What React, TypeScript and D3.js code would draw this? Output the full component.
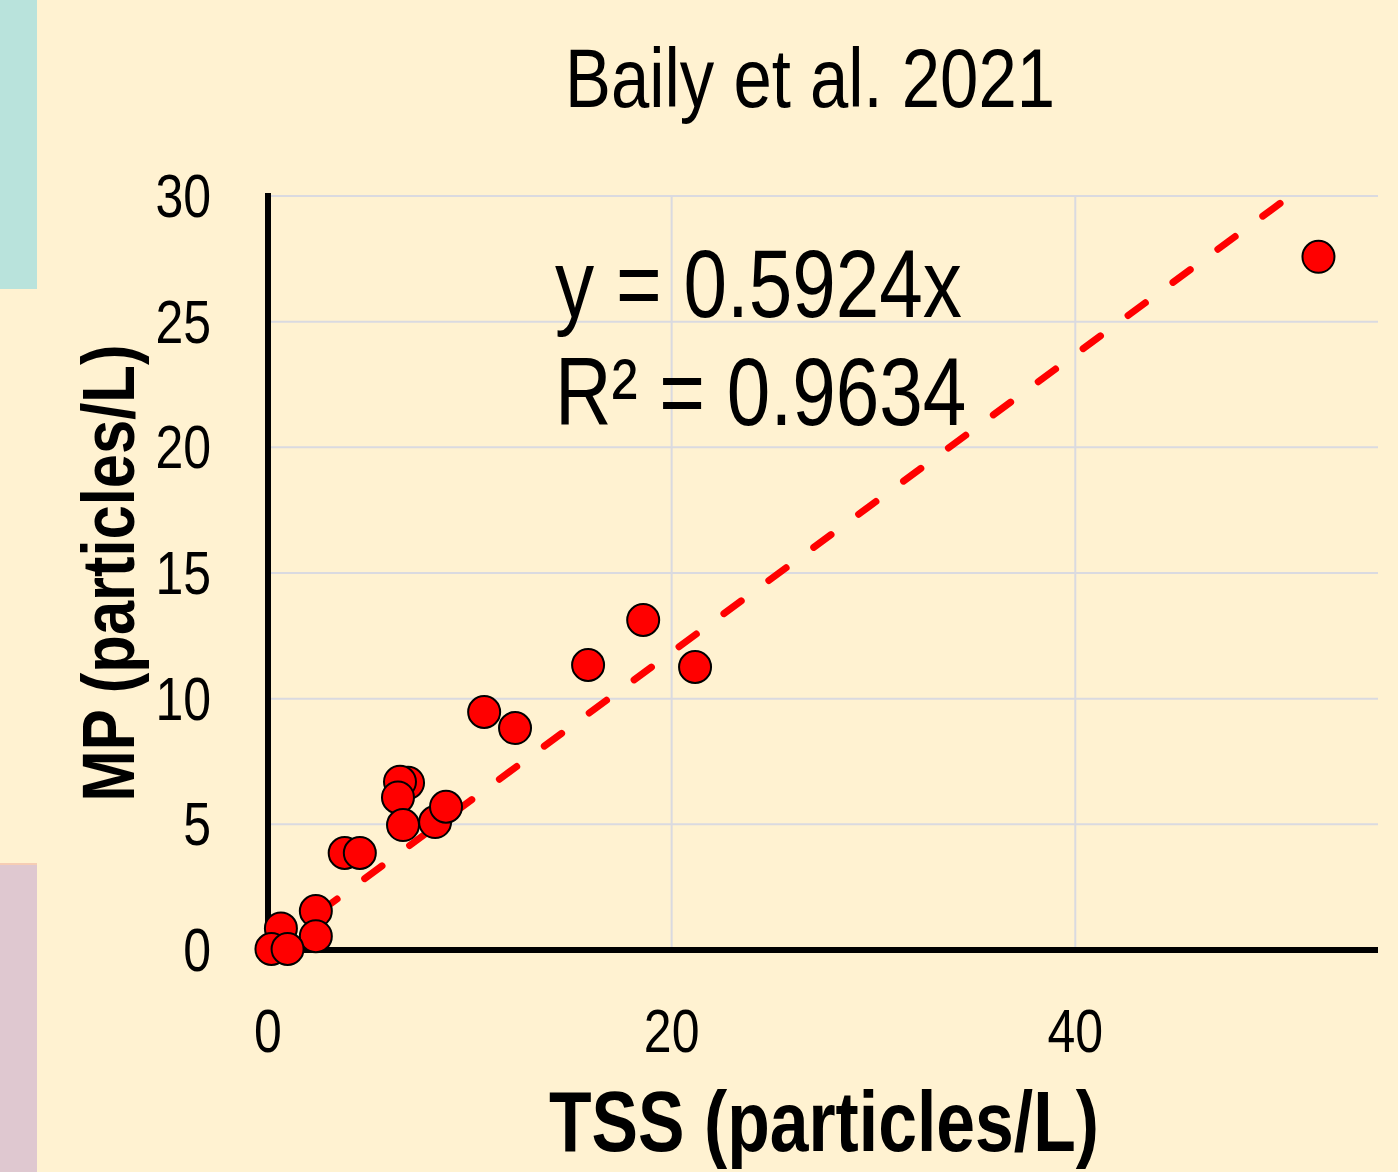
import { useEffect, useRef } from "react";
import * as d3 from "d3";

// TSS vs MP values
const tss: number[] = [
  52.05, 18.59, 15.86, 21.16, 10.71, 12.24, 6.94, 6.54, 6.44, 6.69, 8.28,
  8.82, 3.8, 4.55, 2.37, 2.37, 0.64, 0.17, 0.97,
];
const mp: number[] = [
  27.58, 13.13, 11.34, 11.26, 9.47, 8.83, 6.65, 6.69, 6.07, 4.97, 5.09, 5.7,
  3.86, 3.86, 1.55, 0.55, 0.86, 0.04, 0.04,
];

const xTicks = [0, 20, 40];
const yTicks = [0, 5, 10, 15, 20, 25, 30];
const slope = 0.5924;
const rSquared = 0.9634;

const W = 1398;
const H = 1172;
const FONT = "'Liberation Sans', Arial, sans-serif";
const NARROW = 0.82;

const App = () => {
  const svgRef = useRef<SVGSVGElement | null>(null);

  useEffect(() => {
    const svg = d3.select(svgRef.current);
    svg.selectAll("*").remove();

    const x = d3.scaleLinear().domain([0, 55]).range([268, 1378]);
    const y = d3.scaleLinear().domain([0, 30]).range([950, 196]);

    // background + side strips
    svg.append("rect").attr("width", W).attr("height", H).attr("fill", "#FFF2D1");
    svg.append("rect").attr("width", 37).attr("height", 289).attr("fill", "#B9E3DC");
    svg.append("rect").attr("y", 864).attr("width", 37).attr("height", H - 864).attr("fill", "#DFC8D0");
    svg.append("rect").attr("y", 863).attr("width", 37).attr("height", 2).attr("fill", "#F6CDB4");

    // narrow text helper (Arial Narrow look)
    const text = (
      g: d3.Selection<any, unknown, null, undefined>,
      s: string,
      tx: number,
      ty: number,
      size: number,
      anchor: string,
      bold = false,
      rotate = 0
    ) =>
      g
        .append("text")
        .attr("transform", `translate(${tx},${ty}) rotate(${rotate}) scale(${NARROW},1)`)
        .attr("text-anchor", anchor)
        .attr("font-family", FONT)
        .attr("font-size", size)
        .attr("font-weight", bold ? "bold" : "normal")
        .attr("fill", "#000")
        .text(s);

    // gridlines
    const grid = svg.append("g").attr("stroke", "#DADAE0").attr("stroke-width", 2);
    yTicks.filter((t) => t > 0).forEach((t) => {
      grid.append("line").attr("x1", x(0)).attr("x2", x(55)).attr("y1", y(t)).attr("y2", y(t));
    });
    xTicks.filter((t) => t > 0).forEach((t) => {
      grid.append("line").attr("x1", x(t)).attr("x2", x(t)).attr("y1", y(0)).attr("y2", y(30));
    });

    // trendline through origin, clipped at top of axis
    const xMin = d3.min(tss) as number;
    const xEnd = Math.min(d3.max(tss) as number, 30 / slope);
    const trend = d3
      .line<number>()
      .x((d) => x(d))
      .y((d) => y(d * slope));
    svg
      .append("path")
      .attr("d", trend([xMin, xEnd]) || "")
      .attr("fill", "none")
      .attr("stroke", "#FF0000")
      .attr("stroke-width", 7)
      .attr("stroke-linecap", "round")
      .attr("stroke-dasharray", "21.5 34.3")
      .attr("stroke-dashoffset", -4.3);

    // axes
    svg.append("line").attr("x1", x(0)).attr("x2", x(0)).attr("y1", y(30) - 3).attr("y2", y(0) + 3)
      .attr("stroke", "#000").attr("stroke-width", 6);
    svg.append("line").attr("x1", x(0) - 3).attr("x2", x(55)).attr("y1", y(0)).attr("y2", y(0))
      .attr("stroke", "#000").attr("stroke-width", 6);

    // points
    svg
      .append("g")
      .selectAll("circle")
      .data(tss.map((t, i) => [t, mp[i]]))
      .join("circle")
      .attr("cx", (d) => x(d[0]))
      .attr("cy", (d) => y(d[1]))
      .attr("r", 16)
      .attr("fill", "#FF0000")
      .attr("stroke", "#000")
      .attr("stroke-width", 2);

    // tick labels
    yTicks.forEach((t) => text(svg, String(t), 211, y(t) + 21, 61, "end"));
    xTicks.forEach((t) => text(svg, String(t), x(t), 1052, 61, "middle"));

    // titles
    text(svg, "Baily et al. 2021", 810, 107, 84, "middle");
    text(svg, "TSS (particles/L)", 824, 1151, 85, "middle", true);
    text(svg, "MP (particles/L)", 134, 573, 75, "middle", true, -90);

    // equation
    text(svg, `y = ${slope}x`, 555, 317, 95.5, "start");
    text(svg, `R² = ${rSquared}`, 555, 425, 95.5, "start");
  }, []);

  return (
    <div style={{ position: "absolute", left: 0, top: 0 }}>
      <svg ref={svgRef} width={W} height={H} style={{ display: "block" }} />
    </div>
  );
};

export default App;
